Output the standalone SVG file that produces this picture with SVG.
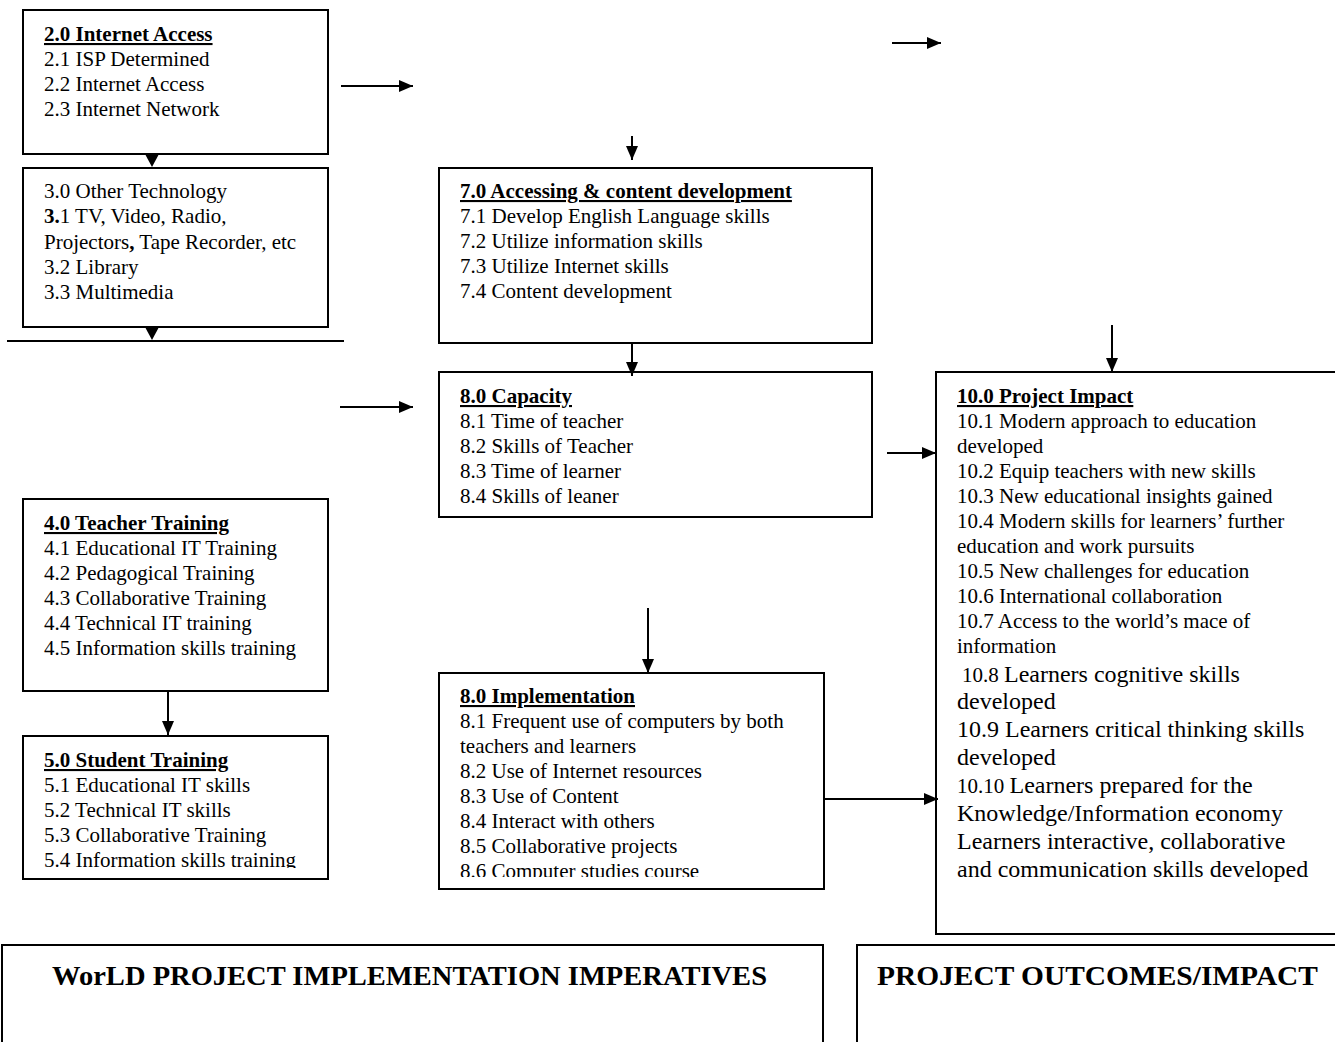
<svg xmlns="http://www.w3.org/2000/svg" width="1335" height="1042" viewBox="0 0 1335 1042">
<style>
.box{fill:#fff;stroke:#000;stroke-width:2}
text{font-family:"Liberation Serif","Times New Roman",serif;font-size:21px;fill:#000}
.t{font-weight:bold;text-decoration:underline}
.b{font-weight:bold}
.big{font-size:24px}
.hd{font-weight:bold;font-size:28px}
.ln{stroke:#000;stroke-width:2;fill:none}
</style>
<defs>
<marker id="ah" markerWidth="14" markerHeight="12" refX="14" refY="6" orient="auto" markerUnits="userSpaceOnUse">
<path d="M0,0 L14,6 L0,12 Z" fill="#000"/>
</marker>
<clipPath id="c5"><rect x="0" y="730" width="340" height="138"/></clipPath>
<clipPath id="c8"><rect x="430" y="660" width="400" height="217"/></clipPath>
</defs>
<rect width="1335" height="1042" fill="#fff"/>

<g id="n2">
<rect class="box" x="23" y="10" width="305" height="144"/>
<text x="44" y="41" class="t">2.0 Internet Access</text>
<text x="44" y="66">2.1 ISP Determined</text>
<text x="44" y="91">2.2 Internet Access</text>
<text x="44" y="116">2.3 Internet Network</text>
</g>

<g id="n3">
<rect class="box" x="23" y="168" width="305" height="159"/>
<text x="44" y="198">3.0 Other Technology</text>
<text x="44" y="223"><tspan class="b">3.</tspan>1 TV, Video, Radio,</text>
<text x="44" y="249">Projectors<tspan class="b">,</tspan> Tape Recorder, etc</text>
<text x="44" y="274">3.2 Library</text>
<text x="44" y="299">3.3 Multimedia</text>
</g>

<g id="n7">
<rect class="box" x="439" y="168" width="433" height="175"/>
<text x="460" y="198" class="t">7.0 Accessing &amp; content development</text>
<text x="460" y="223">7.1 Develop English Language skills</text>
<text x="460" y="248">7.2 Utilize information skills</text>
<text x="460" y="273">7.3 Utilize Internet skills</text>
<text x="460" y="298">7.4 Content development</text>
</g>

<g id="n8cap">
<rect class="box" x="439" y="372" width="433" height="145"/>
<text x="460" y="403" class="t">8.0 Capacity</text>
<text x="460" y="428">8.1 Time of teacher</text>
<text x="460" y="453">8.2 Skills of Teacher</text>
<text x="460" y="478">8.3 Time of learner</text>
<text x="460" y="503">8.4 Skills of leaner</text>
</g>

<g id="n10">
<rect class="box" x="936" y="372" width="410" height="562"/>
<text x="957" y="403" class="t">10.0 Project Impact</text>
<text x="957" y="428">10.1 Modern approach to education</text>
<text x="957" y="453">developed</text>
<text x="957" y="478">10.2 Equip teachers with new skills</text>
<text x="957" y="503">10.3 New educational insights gained</text>
<text x="957" y="528">10.4 Modern skills for learners’ further</text>
<text x="957" y="553">education and work pursuits</text>
<text x="957" y="578">10.5 New challenges for education</text>
<text x="957" y="603">10.6 International collaboration</text>
<text x="957" y="628">10.7 Access to the world’s mace of</text>
<text x="957" y="653">information</text>
<text x="962" y="682">10.8 <tspan class="big">Learners cognitive skills</tspan></text>
<text x="957" y="709" class="big">developed</text>
<text x="957" y="737" class="big">10.9 Learners critical thinking skills</text>
<text x="957" y="765" class="big">developed</text>
<text x="957" y="793">10.10 <tspan class="big">Learners prepared for the</tspan></text>
<text x="957" y="821" class="big">Knowledge/Information economy</text>
<text x="957" y="849" class="big">Learners interactive, collaborative</text>
<text x="957" y="877" class="big">and communication skills developed</text>
</g>

<g id="n4">
<rect class="box" x="23" y="499" width="305" height="192"/>
<text x="44" y="530" class="t">4.0 Teacher Training</text>
<text x="44" y="555">4.1 Educational IT Training</text>
<text x="44" y="580">4.2 Pedagogical Training</text>
<text x="44" y="605">4.3 Collaborative Training</text>
<text x="44" y="630">4.4 Technical IT training</text>
<text x="44" y="655">4.5 Information skills training</text>
</g>

<g id="n5">
<rect class="box" x="23" y="736" width="305" height="143"/>
<g clip-path="url(#c5)">
<text x="44" y="767" class="t">5.0 Student Training</text>
<text x="44" y="792">5.1 Educational IT skills</text>
<text x="44" y="817">5.2 Technical IT skills</text>
<text x="44" y="842">5.3 Collaborative Training</text>
<text x="44" y="867">5.4 Information skills training</text>
</g>
</g>

<g id="n8impl">
<rect class="box" x="439" y="673" width="385" height="216"/>
<g clip-path="url(#c8)">
<text x="460" y="703" class="t">8.0 Implementation</text>
<text x="460" y="728">8.1 Frequent use of computers by both</text>
<text x="460" y="753">teachers and learners</text>
<text x="460" y="778">8.2 Use of Internet resources</text>
<text x="460" y="803">8.3 Use of Content</text>
<text x="460" y="828">8.4 Interact with others</text>
<text x="460" y="853">8.5 Collaborative projects</text>
<text x="460" y="878">8.6 Computer studies course</text>
</g>
</g>

<g id="nImperatives">
<rect class="box" x="2" y="945" width="821" height="110"/>
<text x="52" y="985" class="hd" textLength="715" lengthAdjust="spacingAndGlyphs">WorLD PROJECT IMPLEMENTATION IMPERATIVES</text>
</g>

<g id="nOutcomes">
<rect class="box" x="857" y="945" width="490" height="110"/>
<text x="877" y="985" class="hd" textLength="441" lengthAdjust="spacingAndGlyphs">PROJECT OUTCOMES/IMPACT</text>
</g>

<g id="connectors">
<polygon points="145,154 159,154 152,167" fill="#000"/>
<polygon points="145,327 159,327 152,340" fill="#000"/>
<line class="ln" x1="7" y1="341" x2="344" y2="341"/>
<line class="ln" x1="341" y1="86" x2="413" y2="86" marker-end="url(#ah)"/>
<line class="ln" x1="892" y1="43" x2="941" y2="43" marker-end="url(#ah)"/>
<line class="ln" x1="632" y1="136" x2="632" y2="160" marker-end="url(#ah)"/>
<line class="ln" x1="632" y1="343" x2="632" y2="376" marker-end="url(#ah)"/>
<line class="ln" x1="340" y1="407" x2="413" y2="407" marker-end="url(#ah)"/>
<line class="ln" x1="887" y1="453" x2="936" y2="453" marker-end="url(#ah)"/>
<line class="ln" x1="1112" y1="325" x2="1112" y2="372" marker-end="url(#ah)"/>
<line class="ln" x1="168" y1="691" x2="168" y2="735" marker-end="url(#ah)"/>
<line class="ln" x1="648" y1="608" x2="648" y2="673" marker-end="url(#ah)"/>
<line class="ln" x1="824" y1="799" x2="938" y2="799" marker-end="url(#ah)"/>
</g>
</svg>
